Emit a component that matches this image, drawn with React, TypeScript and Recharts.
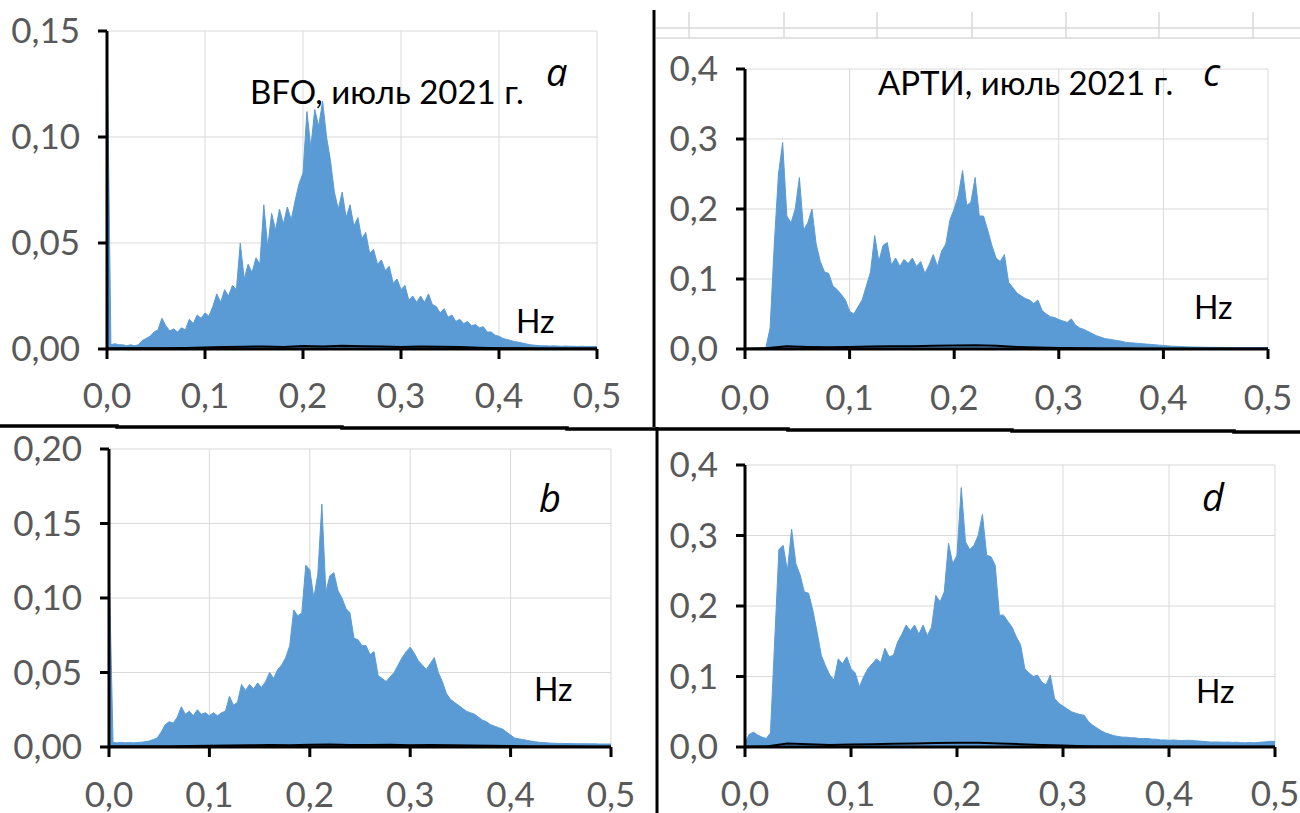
import React from 'react';
import { ComposedChart, Area, Line, XAxis, YAxis, CartesianGrid } from 'recharts';

// frequency grid of the spectra (Hz) and of the noise traces
const SPECTRUM_STEP = 0.004;
const NOISE_STEP = 0.02;
const X_TICKS = [0, 0.1, 0.2, 0.3, 0.4, 0.5];

// a: BFO, July 2021
const bfoJuly = [
  0.150, 0.0020, 0.0025, 0.0020, 0.0020, 0.0015, 0.0020, 0.0015, 0.0020, 0.0040,
  0.0050, 0.0060, 0.0080, 0.0090, 0.0145, 0.0110, 0.0085, 0.0095, 0.0080, 0.0100,
  0.0090, 0.0140, 0.0120, 0.0160, 0.0145, 0.0170, 0.0155, 0.0200, 0.0260, 0.0220,
  0.0280, 0.0250, 0.0300, 0.0280, 0.0500, 0.0330, 0.0400, 0.0360, 0.0430, 0.0400,
  0.0680, 0.0480, 0.0640, 0.0560, 0.0660, 0.0590, 0.0670, 0.0610, 0.0700, 0.0780,
  0.0830, 0.1120, 0.0950, 0.1130, 0.1050, 0.1170, 0.1000, 0.0890, 0.0740, 0.0660,
  0.0740, 0.0620, 0.0680, 0.0580, 0.0620, 0.0520, 0.0550, 0.0450, 0.0470, 0.0400,
  0.0420, 0.0370, 0.0390, 0.0310, 0.0330, 0.0280, 0.0300, 0.0230, 0.0250, 0.0220,
  0.0250, 0.0220, 0.0260, 0.0210, 0.0200, 0.0170, 0.0190, 0.0150, 0.0160, 0.0130,
  0.0140, 0.0120, 0.0130, 0.0110, 0.0115, 0.0100, 0.0105, 0.0080, 0.0080, 0.0065,
  0.0060, 0.0050, 0.0045, 0.0040, 0.0035, 0.0032, 0.0028, 0.0024, 0.0020, 0.0018,
  0.0016, 0.0015, 0.0015, 0.0014, 0.0015, 0.0014, 0.0013, 0.0014, 0.0013, 0.0013,
  0.0012, 0.0013, 0.0012, 0.0012, 0.0012, 0.0012,
];
const bfoJulyNoise = [
  0.0002, 0.0003, 0.0003, 0.0004, 0.0005, 0.0007, 0.0009, 0.0011, 0.0012, 0.0010,
  0.0014, 0.0012, 0.0015, 0.0013, 0.0012, 0.0010, 0.0012, 0.0011, 0.0009, 0.0006,
  0.0004, 0.0003, 0.0002, 0.0002, 0.0002, 0.0002,
];

// b
const panelB = [
  0.125, 0.0030, 0.0028, 0.0030, 0.0028, 0.0030, 0.0028, 0.0030, 0.0032, 0.0035,
  0.0040, 0.0050, 0.0060, 0.0100, 0.0150, 0.0170, 0.0160, 0.0200, 0.0270, 0.0220,
  0.0240, 0.0210, 0.0250, 0.0220, 0.0230, 0.0210, 0.0230, 0.0210, 0.0230, 0.0240,
  0.0340, 0.0280, 0.0300, 0.0420, 0.0380, 0.0420, 0.0390, 0.0430, 0.0400, 0.0440,
  0.0500, 0.0460, 0.0520, 0.0550, 0.0600, 0.0680, 0.0920, 0.0880, 0.0900, 0.1220,
  0.1190, 0.1000, 0.1160, 0.1630, 0.1040, 0.1150, 0.1170, 0.1050, 0.1000, 0.0930,
  0.0900, 0.0730, 0.0720, 0.0680, 0.0680, 0.0620, 0.0640, 0.0480, 0.0460, 0.0440,
  0.0470, 0.0500, 0.0550, 0.0600, 0.0640, 0.0670, 0.0630, 0.0580, 0.0550, 0.0520,
  0.0560, 0.0600, 0.0500, 0.0440, 0.0360, 0.0320, 0.0300, 0.0280, 0.0260, 0.0240,
  0.0230, 0.0220, 0.0200, 0.0180, 0.0170, 0.0150, 0.0140, 0.0130, 0.0120, 0.0100,
  0.0080, 0.0060, 0.0055, 0.0050, 0.0045, 0.0040, 0.0036, 0.0032, 0.0030, 0.0028,
  0.0026, 0.0025, 0.0024, 0.0024, 0.0023, 0.0023, 0.0022, 0.0022, 0.0022, 0.0021,
  0.0021, 0.0021, 0.0020, 0.0020, 0.0020, 0.0020,
];
const panelBNoise = [
  0.0003, 0.0003, 0.0004, 0.0004, 0.0006, 0.0008, 0.0010, 0.0012, 0.0013, 0.0012,
  0.0015, 0.0016, 0.0014, 0.0013, 0.0015, 0.0012, 0.0014, 0.0011, 0.0010, 0.0009,
  0.0006, 0.0004, 0.0003, 0.0003, 0.0002, 0.0002,
];

// c: АРТИ, July 2021
const artiJuly = [
  0.0010, 0.0010, 0.0010, 0.0010, 0.0012, 0.0020, 0.0300, 0.1500, 0.2500, 0.2950,
  0.1900, 0.1800, 0.2000, 0.2450, 0.1700, 0.1800, 0.2000, 0.1500, 0.1250, 0.1100,
  0.1080, 0.0900, 0.0850, 0.0780, 0.0700, 0.0540, 0.0500, 0.0600, 0.0700, 0.0900,
  0.1100, 0.1620, 0.1250, 0.1480, 0.1520, 0.1200, 0.1300, 0.1180, 0.1280, 0.1220,
  0.1300, 0.1180, 0.1250, 0.1080, 0.1200, 0.1350, 0.1180, 0.1400, 0.1500, 0.1850,
  0.2000, 0.2200, 0.2550, 0.2050, 0.2100, 0.2450, 0.1900, 0.1900, 0.1700, 0.1480,
  0.1300, 0.1250, 0.1350, 0.0950, 0.0880, 0.0800, 0.0760, 0.0720, 0.0700, 0.0650,
  0.0700, 0.0550, 0.0500, 0.0460, 0.0450, 0.0420, 0.0400, 0.0380, 0.0430, 0.0340,
  0.0300, 0.0280, 0.0250, 0.0220, 0.0190, 0.0170, 0.0150, 0.0140, 0.0130, 0.0120,
  0.0110, 0.0095, 0.0090, 0.0085, 0.0080, 0.0075, 0.0070, 0.0065, 0.0060, 0.0055,
  0.0050, 0.0045, 0.0040, 0.0038, 0.0035, 0.0032, 0.0030, 0.0028, 0.0027, 0.0026,
  0.0025, 0.0024, 0.0024, 0.0023, 0.0023, 0.0022, 0.0022, 0.0021, 0.0021, 0.0020,
  0.0020, 0.0020, 0.0020, 0.0020, 0.0020, 0.0020,
];
const artiJulyNoise = [
  0.0005, 0.0010, 0.0040, 0.0030, 0.0025, 0.0030, 0.0035, 0.0040, 0.0040, 0.0045,
  0.0050, 0.0055, 0.0045, 0.0030, 0.0020, 0.0015, 0.0010, 0.0008, 0.0006, 0.0005,
  0.0005, 0.0004, 0.0004, 0.0004, 0.0004, 0.0004,
];

// d
const panelD = [
  0.0060, 0.0180, 0.0210, 0.0170, 0.0140, 0.0120, 0.0200, 0.1500, 0.2800, 0.2860,
  0.2500, 0.3090, 0.2600, 0.2440, 0.2200, 0.2180, 0.1940, 0.1630, 0.1300, 0.1150,
  0.1020, 0.0950, 0.1250, 0.1180, 0.1280, 0.1110, 0.1050, 0.0850, 0.1000, 0.1110,
  0.1180, 0.1250, 0.1200, 0.1400, 0.1280, 0.1300, 0.1490, 0.1600, 0.1730, 0.1650,
  0.1730, 0.1600, 0.1730, 0.1580, 0.1700, 0.2150, 0.2060, 0.2200, 0.2890, 0.2600,
  0.2720, 0.3680, 0.2910, 0.2800, 0.2860, 0.3000, 0.3300, 0.2720, 0.2700, 0.2580,
  0.1870, 0.1870, 0.1780, 0.1700, 0.1560, 0.1450, 0.1110, 0.1050, 0.1000, 0.1020,
  0.0920, 0.0880, 0.1020, 0.0690, 0.0620, 0.0580, 0.0540, 0.0500, 0.0480, 0.0460,
  0.0450, 0.0360, 0.0310, 0.0270, 0.0230, 0.0200, 0.0180, 0.0160, 0.0150, 0.0140,
  0.0140, 0.0130, 0.0130, 0.0120, 0.0120, 0.0120, 0.0110, 0.0110, 0.0100, 0.0100,
  0.0095, 0.0100, 0.0095, 0.0090, 0.0095, 0.0095, 0.0090, 0.0085, 0.0080, 0.0075,
  0.0070, 0.0072, 0.0070, 0.0068, 0.0070, 0.0065, 0.0068, 0.0062, 0.0060, 0.0065,
  0.0060, 0.0065, 0.0070, 0.0075, 0.0080, 0.0080,
];
const panelDNoise = [
  0.0004, 0.0006, 0.0050, 0.0040, 0.0030, 0.0035, 0.0040, 0.0045, 0.0050, 0.0055,
  0.0060, 0.0060, 0.0050, 0.0040, 0.0030, 0.0020, 0.0012, 0.0008, 0.0006, 0.0005,
  0.0005, 0.0004, 0.0004, 0.0004, 0.0004, 0.0004,
];

const BLUE = '#5B9BD5';
const GRID = '#D9D9D9';
const TICK_COLOR = '#595959';
const FONT = 'Lato, "Open Sans", sans-serif';

const toRows = (vals: number[], step: number) =>
  vals.map((v, i) => ({ f: Math.round(i * step * 1000) / 1000, v }));

const fmt = (digits: number) => (v: number) => v.toFixed(digits).replace('.', ',');

type PanelProps = {
  left: number; top: number; width: number; height: number;
  x0: number; x1: number; y0: number; y1: number;
  spectrum: number[]; noise: number[];
  yMax: number; yTicks: number[]; yDigits: number; xLabelGap: number;
};

function Panel(p: PanelProps) {
  const xAxisH = 66;
  const margin = {
    top: p.y0 - p.top,
    right: p.left + p.width - p.x1,
    bottom: p.top + p.height - p.y1 - xAxisH,
    left: 0,
  };
  const rows = toRows(p.spectrum, SPECTRUM_STEP);
  const noiseRows = toRows(p.noise, NOISE_STEP);
  const tick = { fill: TICK_COLOR, fontSize: 35, fontFamily: FONT };
  return (
    <div style={{ position: 'absolute', left: p.left, top: p.top }}>
      <ComposedChart width={p.width} height={p.height} data={rows} margin={margin}>
        <CartesianGrid stroke={GRID} strokeWidth={1} />
        <XAxis
          dataKey="f" type="number" domain={[0, 0.5]} ticks={X_TICKS}
          tickFormatter={fmt(1)} height={xAxisH} interval={0}
          axisLine={{ stroke: '#000', strokeWidth: 3 }}
          tickLine={{ stroke: '#000', strokeWidth: 3 }} tickSize={10}
          tickMargin={p.xLabelGap - 10} tick={tick}
        />
        <YAxis
          type="number" domain={[0, p.yMax]} ticks={p.yTicks} allowDataOverflow
          tickFormatter={fmt(p.yDigits)} width={p.x0 - p.left} interval={0}
          axisLine={{ stroke: '#000', strokeWidth: 3 }}
          tickLine={{ stroke: '#000', strokeWidth: 3 }} tickSize={9}
          tickMargin={18} tick={tick}
        />
        <Area
          dataKey="v" type="linear" stroke={BLUE} strokeWidth={1} fill={BLUE}
          fillOpacity={1} dot={false} activeDot={false} isAnimationActive={false}
        />
        <Line
          data={noiseRows} dataKey="v" type="linear" stroke="#000" strokeWidth={2}
          dot={false} activeDot={false} isAnimationActive={false}
        />
      </ComposedChart>
    </div>
  );
}

const textStyle = { fontFamily: FONT, fontSize: 33, fill: '#000' };
const hzStyle = { fontFamily: FONT, fontSize: 32, fill: '#000' };
const letterStyle = { fontFamily: '"Open Sans", sans-serif', fontSize: 38, fontStyle: 'italic' as const, fill: '#000' };

export default function App() {
  return (
    <div style={{ position: 'absolute', left: 0, top: 0, width: 1300, height: 813, background: '#fff', overflow: 'hidden' }}>
      <Panel left={0} top={0} width={650} height={420} x0={107} x1={597} y0={31} y1={349}
        spectrum={bfoJuly} noise={bfoJulyNoise} yMax={0.15} yTicks={[0, 0.05, 0.1, 0.15]} yDigits={2} xLabelGap={34} />
      <Panel left={650} top={0} width={650} height={420} x0={745} x1={1268} y0={69} y1={349}
        spectrum={artiJuly} noise={artiJulyNoise} yMax={0.4} yTicks={[0, 0.1, 0.2, 0.3, 0.4]} yDigits={1} xLabelGap={36} />
      <Panel left={0} top={418} width={650} height={395} x0={109} x1={611} y0={449} y1={747}
        spectrum={panelB} noise={panelBNoise} yMax={0.2} yTicks={[0, 0.05, 0.1, 0.15, 0.2]} yDigits={2} xLabelGap={35} />
      <Panel left={650} top={418} width={650} height={395} x0={745} x1={1275} y0={465} y1={747}
        spectrum={panelD} noise={panelDNoise} yMax={0.4} yTicks={[0, 0.1, 0.2, 0.3, 0.4]} yDigits={1} xLabelGap={34} />
      <svg width={1300} height={813} style={{ position: 'absolute', left: 0, top: 0, pointerEvents: 'none' }}>
        {/* stray grid of the neighbouring figure, top right */}
        <line x1={656} y1={28} x2={1300} y2={28} stroke={GRID} strokeWidth={1.5} />
        <line x1={656} y1={38} x2={1300} y2={38} stroke={GRID} strokeWidth={1.5} />
        {[689, 784, 877, 972, 1066, 1159, 1253].map((x) => (
          <line key={x} x1={x} y1={12} x2={x} y2={38} stroke={GRID} strokeWidth={1.5} />
        ))}
        {/* frame dividers */}
        <line x1={654} y1={10} x2={654} y2={427} stroke="#000" strokeWidth={3} />
        <line x1={657} y1={427} x2={657} y2={813} stroke="#000" strokeWidth={3} />
        <polyline
          points="0,426 117,426 117,427 342,427 342,428 567,428 567,429 788,429 788,430 1012,430 1012,431 1234,431 1234,432 1300,432"
          fill="none" stroke="#000" strokeWidth={3.5}
        />
        <text x={250} y={104} style={textStyle}>BFO, июль 2021 г.</text>
        <text x={546} y={86} style={letterStyle}>a</text>
        <text x={516} y={333} style={hzStyle}>Hz</text>
        <text x={878} y={95} style={textStyle}>АРТИ, июль 2021 г.</text>
        <text x={1203} y={86} style={letterStyle}>c</text>
        <text x={1194} y={319} style={hzStyle}>Hz</text>
        <text x={539} y={512} style={letterStyle}>b</text>
        <text x={534} y={701} style={hzStyle}>Hz</text>
        <text x={1202} y={511} style={letterStyle}>d</text>
        <text x={1196} y={703} style={hzStyle}>Hz</text>
      </svg>
    </div>
  );
}
